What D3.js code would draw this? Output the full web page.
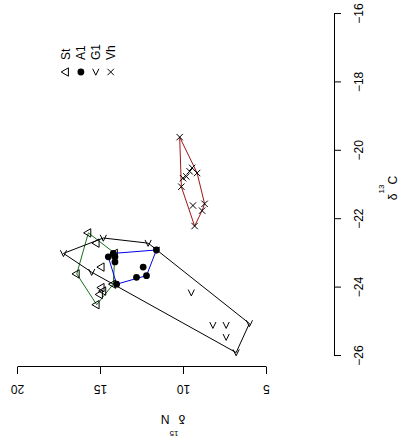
<!DOCTYPE html>
<html>
<head>
<meta charset="utf-8">
<script src="https://cdn.jsdelivr.net/npm/d3@7"></script>
<style>
  html, body { margin: 0; padding: 0; background: #fff; }
  svg { display: block; }
  text { font-family: "Liberation Sans", Arial, Helvetica, sans-serif; }
</style>
</head>
<body>
<script>
// Stable isotope values (δ15N, δ13C) per group
const groupNames = ["St", "A1", "G1", "Vh"];
const groupColors = ["#1a701a", "#0000ee", "#000000", "#a01414"];

const stN = [15.7, 15.2, 14.1, 14.9, 16.4, 14.2, 14.9, 14.8, 15.0, 15.2];
const stC = [-22.4, -22.7, -23.0, -23.4, -23.6, -23.9, -24.0, -24.1, -24.2, -24.5];

const a1N = [14.5, 14.2, 14.1, 14.1, 11.6, 12.4, 12.8, 12.2, 14.0];
const a1C = [-23.1, -23.0, -23.1, -23.25, -22.9, -23.4, -23.7, -23.65, -23.9];

const g1N = [17.2, 14.8, 12.1, 11.6, 15.5, 9.5, 8.2, 7.4, 7.4, 6.0, 6.8];
const g1C = [-23.0, -22.55, -22.7, -22.9, -23.55, -24.15, -25.1, -25.1, -25.45, -25.05, -25.9];

const vhN = [10.2, 9.8, 9.6, 9.45, 9.15, 10.0, 10.1, 9.4, 8.7, 8.85, 9.3];
const vhC = [-19.6, -20.75, -20.6, -20.5, -20.65, -20.8, -21.05, -21.6, -21.55, -21.75, -22.2];

const nTicks = [20, 15, 10, 5];
const cTicks = [-26, -24, -22, -20, -18, -16];

const W = 400, H = 437;
const svg = d3.select("body").append("svg")
  .attr("width", W).attr("height", H);

// The biplot is laid out landscape (δ13C across, δ15N up) and turned a quarter turn
const g = svg.append("g").attr("transform", `translate(0,${H}) rotate(-90)`);

const x = d3.scaleLinear().domain([-26, -16]).range([81, 423]);
const y = d3.scaleLinear().domain([20, 5]).range([17, 266]);

const minus = s => String(s).replace("-", "\u2212");

// δ13C axis
const xAxis = g.append("g")
  .attr("transform", "translate(0,334)")
  .call(d3.axisBottom(x).tickValues(cTicks).tickSize(7).tickSizeOuter(0).tickFormat(minus));
xAxis.selectAll("text")
  .attr("y", 25).attr("dy", "0.35em")
  .attr("font-size", 12).attr("fill", "#000")
  .style("font-family", "'Liberation Sans', Arial, sans-serif");

// δ15N axis
const yAxis = g.append("g")
  .attr("transform", "translate(70,0)")
  .call(d3.axisLeft(y).tickValues(nTicks).tickSize(7).tickSizeOuter(0));
yAxis.selectAll("text")
  .attr("x", 0).attr("y", 0).attr("dy", "0.35em")
  .attr("text-anchor", "middle")
  .attr("transform", "translate(-22,0) rotate(-90)")
  .attr("font-size", 12).attr("fill", "#000")
  .style("font-family", "'Liberation Sans', Arial, sans-serif");

[xAxis, yAxis].forEach(ax => {
  ax.selectAll("path, line").attr("stroke", "#000").attr("stroke-width", 1);
});

// Axis titles: delta with raised isotope mass number
function isoTitle(sel, mass, element, rise) {
  sel.append("tspan").text("\u03b4");
  sel.append("tspan").attr("font-size", 8).attr("dy", -rise).text(mass);
  sel.append("tspan").attr("dy", rise).text(element);
}

const cTitle = g.append("text")
  .attr("x", 249).attr("y", 397)
  .attr("text-anchor", "middle").attr("font-size", 12);
isoTitle(cTitle, "13", "C", 13.5);

const nTitle = g.append("text")
  .attr("transform", "translate(22,173) rotate(-90)")
  .attr("text-anchor", "middle").attr("font-size", 12);
isoTitle(nTitle, "15", "N", 15.5);

// Point symbols per group
const symbolPath = {
  St: "M0,-4.8L4.2,2.4L-4.2,2.4Z",
  A1: null,
  G1: "M3.2,-3.1L-3.2,0L3.2,3.1",
  Vh: "M-3.2,-3.2L3.2,3.2M-3.2,3.2L3.2,-3.2"
};

function drawSymbol(sel, name, px, py) {
  if (name === "A1") {
    sel.append("circle").attr("cx", px).attr("cy", py).attr("r", 3.4).attr("fill", "#000");
  } else {
    sel.append("path")
      .attr("transform", `translate(${px},${py})`)
      .attr("d", symbolPath[name])
      .attr("fill", "none").attr("stroke", "#000").attr("stroke-width", 1);
  }
}

const series = [
  { name: "St", n: stN, c: stC },
  { name: "A1", n: a1N, c: a1C },
  { name: "G1", n: g1N, c: g1C },
  { name: "Vh", n: vhN, c: vhC }
];

// Convex hull around each group
series.forEach((s, i) => {
  const pts = s.n.map((v, k) => [x(s.c[k]), y(v)]);
  const hull = d3.polygonHull(pts);
  g.append("path")
    .attr("d", "M" + hull.join("L") + "Z")
    .attr("fill", "none")
    .attr("stroke", groupColors[i])
    .attr("stroke-width", 1);
});

// Points
series.forEach(s => {
  const layer = g.append("g");
  s.n.forEach((v, k) => drawSymbol(layer, s.name, x(s.c[k]), y(v)));
});

// Legend
const legend = g.append("g");
groupNames.forEach((name, i) => {
  const ly = 66 + i * 14.9;
  drawSymbol(legend, name, 365, ly);
  legend.append("text")
    .attr("x", 377).attr("y", ly).attr("dy", "0.35em")
    .attr("font-size", 12).text(name);
});
</script>
</body>
</html>
